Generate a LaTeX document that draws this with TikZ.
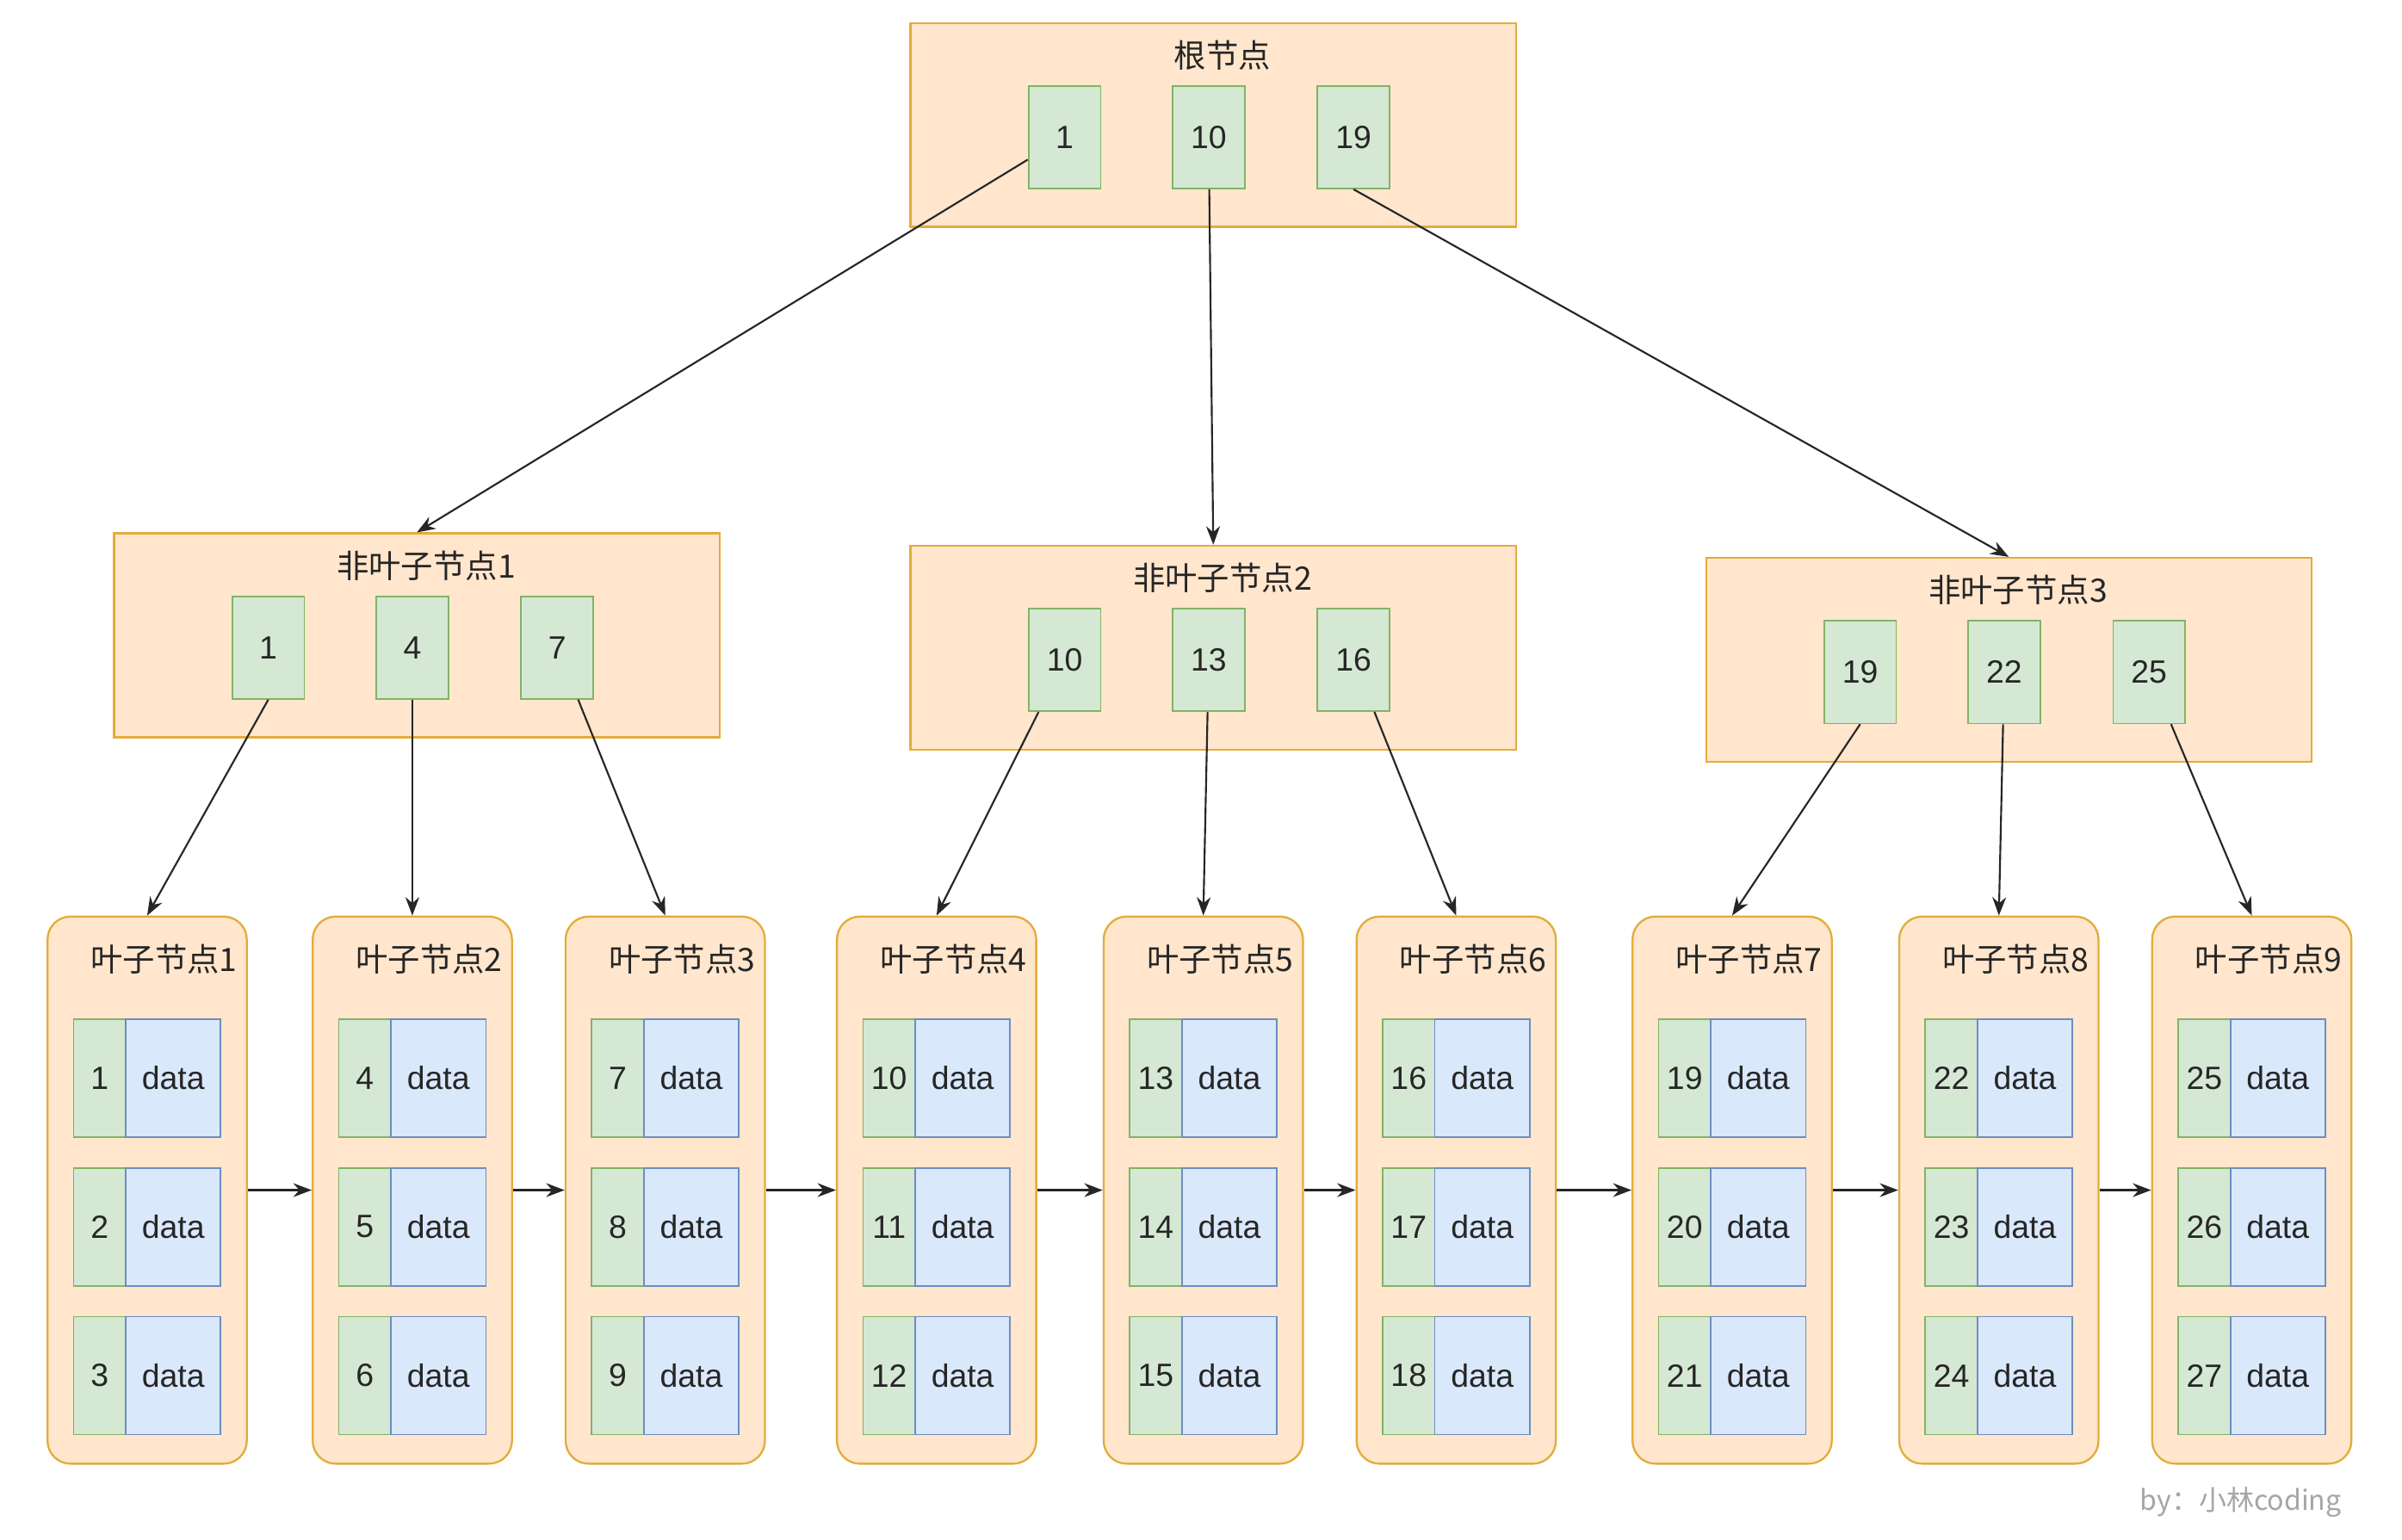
\documentclass[tikz,border=0pt]{standalone}
\usepackage{fontspec}
\setmainfont{Liberation Sans}
\newfontfamily\cjk{Noto Sans CJK SC}
\usepackage{tikz}
\usetikzlibrary{arrows.meta,positioning}
\definecolor{boxfill}{HTML}{FFE6CC}
\definecolor{boxline}{HTML}{E3AC3A}
\definecolor{keyfill}{HTML}{D5E8D4}
\definecolor{keyline}{HTML}{82B366}
\definecolor{datafill}{HTML}{DAE8FC}
\definecolor{dataline}{HTML}{6C8EBF}
\tikzset{
	tnode/.style={rectangle, draw=boxline, fill=boxfill, line width=1.3pt,
		minimum width=395pt, minimum height=133pt},
	leaf/.style={rectangle, rounded corners=15pt, draw=boxline, fill=boxfill,
		line width=1.3pt, minimum width=130pt, minimum height=357pt},
	key/.style={rectangle, draw=keyline, fill=keyfill, line width=1pt, inner sep=0pt,
		minimum width=47pt, minimum height=67pt, font=\fontsize{21}{21}\selectfont},
	lkey/.style={key, minimum width=34pt, minimum height=77pt},
	ldata/.style={rectangle, draw=dataline, fill=datafill, line width=1pt, inner sep=0pt,
		minimum width=62pt, minimum height=77pt, font=\fontsize{21}{21}\selectfont},
	title/.style={inner sep=0pt, font=\cjk\fontsize{21}{21}\selectfont}
}

\begin{document}
\begin{tikzpicture}[x=1pt, y=-1pt, ->, >={Stealth[length=12pt,width=9pt]},
	line width=1.2pt, color=black!85]
	\path[use as bounding box, fill=white] (-1,-1) rectangle (1566,1003.6);
	% root
	\node[tnode]	(root) at (790.5, 80.5) {};
	\node[title]	(roottitle) at (796.5, 35) {根节点};
	\node[key]	(rk1) at (693.5, 88.5) {1};
	\node[key]	(rk10) at (787.5, 88.5) {10};
	\node[key]	(rk19) at (882, 88.5) {19};
	% non-leaf nodes
	\foreach \n/\cx/\cy/\a/\b/\c in {1/271/413.5/1/4/7, 2/790.5/421.5/10/13/16,
		3/1309.5/429.5/19/22/25}{
		\node[tnode]	(nl\n) at (\cx, \cy) {};
		\node[title]	(nt\n) at (\cx+6, \cy-45.5) {非叶子节点\n};
		\node[key]	(nk\a) at (\cx-97, \cy+8) {\a};
		\node[key]	(nk\b) at (\cx-3, \cy+8) {\b};
		\node[key]	(nk\c) at (\cx+91.5, \cy+8) {\c};
	}
	% leaf nodes
	\foreach \i/\lx in {1/30, 2/203, 3/368, 4/545, 5/719, 6/884, 7/1064, 8/1238, 9/1403}{
		\node[leaf]	(leaf\i) at (\lx+65, 775.5) {};
		\node[title]	(lt\i) at (\lx+76, 625) {叶子节点\i};
		\foreach \r/\ry in {1/702.5, 2/799.5, 3/896.5}{
			\pgfmathtruncatemacro{\k}{3*(\i-1)+\r}
			\node[lkey]	(k\k) at (\lx+34, \ry) {\k};
			\node[ldata]	(d\k) at (\lx+82, \ry) {data};
		}
	}
	\foreach \i [evaluate=\i as \j using int(\i+1)] in {1,...,8}
		\draw (leaf\i) -- (leaf\j);
	% tree edges
	\draw (rk1) -- (nl1.north);
	\draw (rk10) -- (nl2.north);
	\draw (rk19.south) -- (nl3.north);
	\draw (nk1.south) -- (leaf1.north);
	\draw (nk4) -- (leaf2.north);
	\draw (nk7) -- (leaf3.north);
	\draw (nk10) -- (leaf4.north);
	\draw (nk13) -- (leaf5.north);
	\draw (nk16) -- (leaf6.north);
	\draw (nk19.south) -- (leaf7.north);
	\draw (nk22) -- (leaf8.north);
	\draw (nk25) -- (leaf9.north);
	\node[inner sep=0pt, anchor=east, text=black!35, font=\cjk\fontsize{18}{18}\selectfont]
		(mark) at (1527, 979) {by：小林coding};
\end{tikzpicture}
\end{document}
